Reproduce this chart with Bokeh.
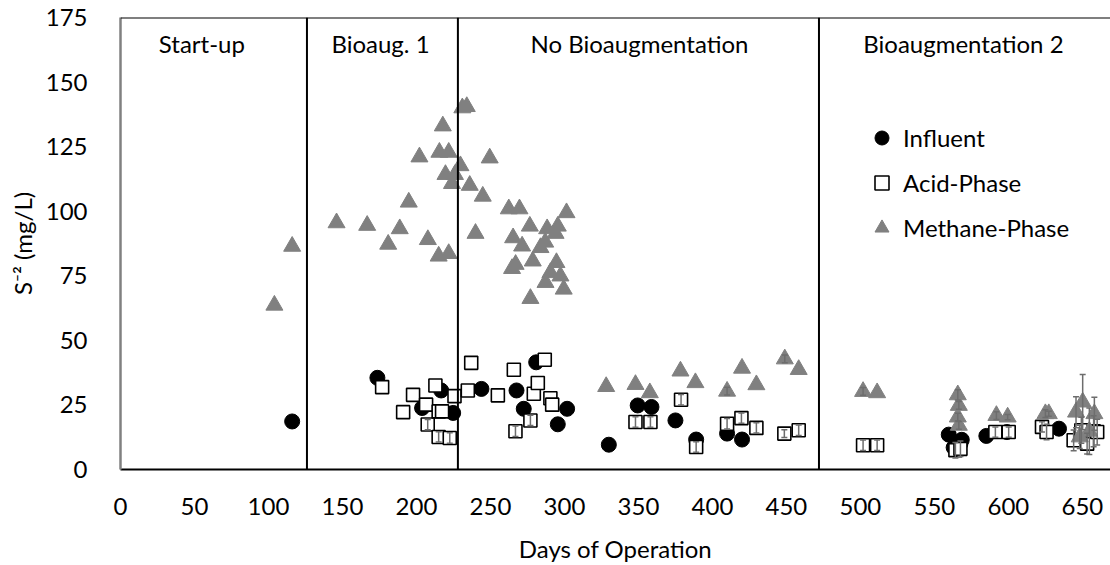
from bokeh.plotting import figure
from bokeh.models import (Range1d, FixedTicker, Span, Legend, LegendItem, Whisker,
                          ColumnDataSource, TeeHead)
from bokeh.core.properties import value
from bokeh.embed import file_html
from bokeh.resources import INLINE

FONT = "Lato"
FS = "24px"

# ---------------- data ----------------
influent_day = [116, 173.6, 203.8, 216.7, 224.8, 243.9, 267.6, 272.5, 280.9, 295.5, 301.8,
                330, 349.5, 358.8, 375, 389, 409.9, 420,
                559.7, 563, 565.3, 567.6, 568.5, 585.1, 599, 634.2]
influent_s = [18.6, 35.5, 23.8, 30.6, 21.9, 31.2, 30.6, 23.5, 41.5, 17.5, 23.5,
              9.6, 24.8, 24.2, 19, 11.6, 13.9, 11.6,
              13.5, 8.5, 9.4, 10, 11.5, 13, 14.5, 15.8]

acid_day = [176.8, 191, 197.7, 206.5, 207.6, 212.8, 215, 215, 217.3, 222.5, 225.7,
            234.7, 237, 255, 265.8, 266.9, 277, 279.3, 282, 286.7, 290.5, 291.7,
            348, 358.1, 378.8, 389, 409.9, 419.6, 429.7, 448.6, 458.3,
            501.8, 511.3, 564.2, 567.6, 591.2, 600.2, 622.7, 625.8, 644.1, 649.3,
            653.2, 657.6, 660]
acid_s = [31.9, 22.2, 28.9, 25.1, 17.4, 32.5, 22.5, 12.6, 22.5, 12.2, 28.4,
          30.6, 41.3, 28.7, 38.6, 14.8, 19, 29.3, 33.5, 42.5, 27.6, 25.1,
          18.4, 18.4, 27, 8.7, 17.7, 19.9, 16.1, 13.9, 15.2,
          9.4, 9.4, 7.5, 8, 14.5, 14.5, 16.5, 14.5, 11.3, 15.2,
          10, 14.8, 14.5]
acid_err = [0, 0, 0, 0, 2, 0, 0, 2, 0, 2, 0,
            0, 0, 0, 0, 2, 2, 0, 0, 0, 0, 0,
            2, 2, 2, 2, 2, 2, 2, 1.5, 2,
            2, 2, 3, 3, 2, 2, 2, 3, 4, 5,
            4, 6, 5]

methane_day = [104, 116, 146, 166.7, 180.9, 188.7, 194.8, 202, 207.7, 215, 221.8,
               215.5, 221.8, 217.8, 219.6, 226, 224, 229.7, 236, 231, 234, 249.5,
               239.9, 244.8, 262.4, 269.6, 301.4, 276.6, 288.3, 295.5, 294, 265.3,
               287, 271.4, 283.8, 267, 264.6, 278.6, 294.6, 290.5, 297.3, 287.2,
               299.5, 277,
               328.2, 348, 357.7, 378.4, 388.5, 409.9, 420, 429.7, 448.9, 458.3,
               501.8, 511.3, 565.8, 566.5, 565.8, 566.5, 591.9, 599.5, 625, 627.3,
               645.7, 650.2, 658.1, 648.2, 654.7]
methane_s = [63.6, 86.4, 95.5, 94.5, 87.2, 93.2, 103.5, 121, 89, 82.6, 83.6,
             122.8, 122.8, 133, 114.2, 114.2, 110.7, 117.6, 110, 140, 140.5, 120.6,
             91.4, 105.8, 100.9, 100.9, 99.4, 94.2, 93.2, 94.2, 91.4, 89.7,
             88, 86.5, 85.9, 79.4, 77.8, 80.7, 80.1, 76.2, 74.9, 72.4,
             69.8, 66.2,
             32.1, 32.9, 29.7, 38.1, 33.6, 30.3, 39.2, 32.8, 42.8, 38.7,
             30.2, 29.7, 28.9, 24.8, 20.3, 17.1, 20.9, 20.3, 21.6, 21.6,
             22.2, 26.1, 21.6, 12.6, 14.8]
methane_err = [0] * 44 + [0, 0, 0, 0, 0, 1.5, 0, 0, 1.5, 0,
                          1.5, 0, 2, 1.5, 1.5, 1.5, 1.5, 1, 1.5, 1,
                          6, 10.7, 6.4, 4.5, 9]

phase_bounds = [126, 228, 472]
phase_names = ["Start-up", "Bioaug. 1", "No Bioaugmentation", "Bioaugmentation 2"]
phase_label_day = [55, 175.7, 350.7, 569.6]
phase_label_level = [165] * 4

x_ticks = list(range(0, 651, 50))
y_ticks = list(range(0, 176, 25))
x_max = 669
y_max = 175

GRAY = "#808080"

# ---------------- figure ----------------
p = figure(width=1110, height=565, output_backend="svg", toolbar_location=None,
           x_range=Range1d(0, x_max), y_range=Range1d(0, y_max),
           min_border_left=120, min_border_right=0, min_border_top=17, min_border_bottom=94)
p.outline_line_color = None
p.grid.visible = False
p.background_fill_color = "white"

for ax in (p.xaxis, p.yaxis):
    ax.major_tick_line_color = None
    ax.minor_tick_line_color = None
    ax.major_label_text_font = FONT
    ax.major_label_text_font_size = FS
    ax.major_label_text_color = "black"
    ax.axis_label_text_font = FONT
    ax.axis_label_text_font_size = FS
    ax.axis_label_text_font_style = "normal"
    ax.axis_label_text_color = "black"

p.xaxis.ticker = FixedTicker(ticks=x_ticks)
p.yaxis.ticker = FixedTicker(ticks=y_ticks)
p.xaxis.axis_line_color = "black"
p.xaxis.axis_line_width = 2
p.yaxis.axis_line_color = GRAY
p.yaxis.axis_line_width = 2.5
p.xaxis.axis_label = "Days of Operation"
p.yaxis.axis_label = "S\u207b\u00b2 (mg/L)"
p.xaxis.major_label_standoff = 22
p.xaxis.axis_label_standoff = 16
p.yaxis.major_label_standoff = 27
p.yaxis.axis_label_standoff = 6

# top border
p.add_layout(Span(location=y_max, dimension="width", line_color="black", line_width=2))
# phase dividers
for b in phase_bounds:
    p.add_layout(Span(location=b, dimension="height", line_color="black", line_width=2))

# phase labels
p.text(x=phase_label_day, y=phase_label_level, text=phase_names,
       text_font=value(FONT), text_font_size=FS, text_color="black",
       text_align="center", text_baseline="middle")

# series
r_inf = p.scatter(influent_day, influent_s, marker="circle", size=15,
                  fill_color="black", line_color="black")
r_acid = p.scatter(acid_day, acid_s, marker="square", size=13,
                   fill_color="white", line_color="black", line_width=1.6)
r_meth = p.scatter(methane_day, methane_s, marker="triangle", size=17,
                   fill_color=GRAY, line_color=GRAY)

# error bars
def add_err(days, vals, errs, color):
    d = [(x, v - e, v + e) for x, v, e in zip(days, vals, errs) if e > 0]
    src = ColumnDataSource(dict(base=[t[0] for t in d], lower=[t[1] for t in d],
                                upper=[t[2] for t in d]))
    w = Whisker(source=src, base="base", lower="lower", upper="upper",
                dimension="height", line_color=color, line_width=1.5, level="overlay",
                upper_head=TeeHead(size=6, line_color=color, line_width=1.5),
                lower_head=TeeHead(size=6, line_color=color, line_width=1.5))
    p.add_layout(w)

add_err(acid_day, acid_s, acid_err, "#6d6d6d")
add_err(methane_day, methane_s, methane_err, "#6d6d6d")

legend = Legend(items=[LegendItem(label="Influent", renderers=[r_inf]),
                       LegendItem(label="Acid-Phase", renderers=[r_acid]),
                       LegendItem(label="Methane-Phase", renderers=[r_meth])],
                location=(744, 224), orientation="vertical",
                glyph_width=35, glyph_height=35, spacing=10, padding=0, margin=0,
                label_standoff=4, label_text_font=FONT, label_text_font_size=FS,
                label_text_color="black", label_text_baseline="middle",
                border_line_color=None, background_fill_alpha=0)
p.add_layout(legend, "center")

open("out.html", "w").write(file_html(p, INLINE))
